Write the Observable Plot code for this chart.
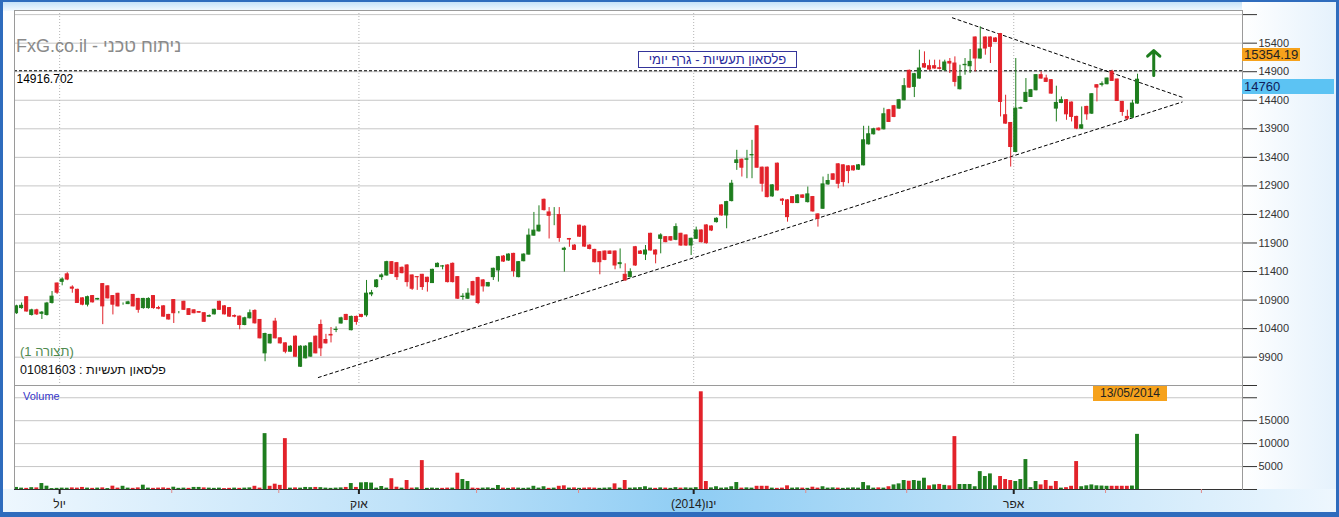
<!DOCTYPE html>
<html><head><meta charset="utf-8">
<script src="https://cdn.jsdelivr.net/npm/d3@7"></script>
<script src="https://cdn.jsdelivr.net/npm/@observablehq/plot@0.6"></script>
<style>
html,body{margin:0;padding:0;background:#fff;}
#wrap{position:relative;width:1339px;height:517px;overflow:hidden;font-family:"Liberation Sans",Arial,sans-serif;background:#fff;}
.abs{position:absolute;}
#border{left:0;top:0;width:1339px;height:517px;box-sizing:border-box;border:3px solid #2f6cbd;border-top-width:2px;border-bottom-width:5px;}
#topbar{left:0;top:0;width:1339px;height:11px;background:linear-gradient(to bottom,#bcdcf6,#f4faff);}
#rightpanel{left:1242px;top:0;width:97px;height:517px;background:linear-gradient(to right,#ffffff,#e4f1fc);}
#bottombar{left:0;top:489px;width:1339px;height:28px;background:linear-gradient(to right,#eef7fe 0%,#bfe2f9 30%,#8fcdf4 52%,#bfe2f9 75%,#eef7fe 100%);}
svg{position:absolute;left:0;overflow:visible;}
.lbl{position:absolute;white-space:nowrap;line-height:15px;font-size:12px;}
</style></head>
<body><div id="wrap">
<div id="topbar" class="abs"></div>
<div id="rightpanel" class="abs"></div>
<div id="bottombar" class="abs"></div>
<div id="border" class="abs"></div>
</div>
<script>
// ---- data ----
const open = [10670,10760,10950,10640,10720,10660,10640,10850,11190,11220,
11350,11120,11080,10930,10820,10970,10910,11180,11140,10970,
11010,10830,10830,10990,10920,10760,10760,10970,10760,10790,
10640,10900,10680,10870,10740,10720,10690,10670,10610,10650,
10870,10790,10760,10620,10610,10464,10581,10710,10552,9967,
10142,10522,10230,10142,9996,10259,9733,9880,9910,10259,
10464,10201,10290,10376,10490,10640,10373,10605,10640,10634,
11000,11128,11302,11331,11564,11546,11465,11506,11331,11302,
11343,11291,11198,11477,11488,11506,11535,11302,10954,10925,
11215,11285,11244,11140,11302,11419,11662,11593,11709,11302,
11581,11697,12029,12104,12656,12435,12389,12389,11780,11970,
11854,12203,12185,11854,11779,11738,11750,11750,11750,11530,
11343,11302,11825,11750,11698,12061,11768,11973,12002,12002,
11956,12061,12032,11856,11973,12119,12207,12189,12265,12558,
12382,12634,13301,13359,13359,13435,13944,13219,13219,12716,
13289,12660,12646,12704,12599,12733,12616,12704,12400,12500,
12926,13102,13277,13260,13242,13242,13184,13260,13628,13804,
13903,13891,14225,14295,14254,14400,14915,14634,14780,15032,
14996,14996,14960,14926,15072,15043,14593,15014,14996,15499,
15131,15499,15499,15482,15558,14137,14002,13494,14254,14371,
14458,14575,14839,14780,14751,14254,14353,14400,14359,14108,
13903,14283,14166,14663,14670,14681,14897,14763,14371,14108,
14096,14342];
const high = [10810,10850,10960,10740,10740,10700,10860,11050,11200,11290,
11380,11150,11090,10940,10970,10980,10930,11190,11150,10980,
11020,10850,10880,11000,10930,10930,10940,10980,10790,10800,
10650,10910,10700,10880,10750,10730,10700,10680,10640,10740,
10880,10800,10770,10640,10620,10600,10727,10730,10560,10320,
10300,10580,10240,10150,10100,10270,10100,10100,10150,10270,
10550,10300,10420,10430,10600,10650,10620,10620,10650,11244,
11070,11260,11360,11580,11575,11560,11480,11520,11340,11310,
11350,11300,11440,11550,11506,11520,11550,11310,11012,11099,
11230,11300,11260,11210,11460,11665,11680,11710,11720,11575,
11710,12145,12435,12551,12670,12520,12520,12520,11825,11980,
11870,12210,12200,11870,11790,11750,11760,11760,11760,11796,
11535,11448,11840,11768,11856,12070,11780,12061,12010,12010,
12236,12070,12040,11985,12178,12130,12220,12200,12340,12570,
12630,12997,13523,13370,13523,13698,13950,13230,13230,12920,
13300,12675,12660,12710,12745,12740,12880,12715,12410,13055,
13102,13110,13290,13270,13255,13255,13275,13944,13944,13910,
13915,14260,14240,14310,14415,14780,14930,14870,15277,15248,
15102,15102,15102,15102,15131,15160,15014,15131,15289,15510,
15687,15510,15510,15495,15570,14488,14010,15131,14280,14780,
14590,14850,14897,14839,14760,14646,14458,14410,14370,14120,
14283,14295,14515,14675,14722,14790,14926,14770,14380,14225,
14400,14856];
const low = [10650,10740,10690,10620,10630,10560,10620,10830,11000,11150,
11240,11020,10840,10800,10780,10850,10900,10470,10920,10640,
10780,10810,10820,10780,10670,10740,10740,10740,10730,10600,
10550,10490,10660,10720,10630,10660,10670,10510,10600,10640,
10720,10640,10600,10590,10380,10450,10570,10480,10220,9820,
10130,10220,10130,9960,9990,9900,9720,9870,9900,9960,
9910,10130,10150,10330,10480,10540,10360,10460,10590,10600,
10960,11110,11244,11320,11350,11244,11360,11128,11070,11070,
11070,11040,11190,11470,11430,11200,11200,10910,10896,10910,
10970,10820,11040,11130,11244,11215,11560,11580,11302,11290,
11570,11690,12020,12090,12460,11970,12203,11912,11389,11825,
11770,12000,11825,11780,11550,11343,11590,11700,11430,11448,
11230,11290,11490,11700,11593,11760,11535,11710,11905,11930,
11940,11840,11840,11681,11960,11900,11880,12100,12250,12370,
12149,12620,13172,13055,13026,13026,13210,12792,12690,12700,
12810,12558,12265,12590,12590,12680,12600,12440,12178,12490,
12910,12995,12850,12880,12938,13160,13170,13250,13615,13790,
13860,13880,14010,14095,14240,14390,14610,14447,14770,14960,
14925,14945,14930,14910,14868,14634,14580,14839,14868,14897,
15120,15189,15043,15410,14108,13980,13230,13480,14240,14360,
14447,14565,14770,14710,14505,14020,14340,14049,14020,13885,
13890,14049,14150,14371,14634,14670,14730,14380,14119,14049,
14085,14330];
const close = [10790,10800,10700,10720,10650,10680,10840,10960,11030,11260,
11260,11100,10850,10820,10950,10860,10920,10790,10930,10820,
10790,10830,10860,10790,10730,10920,10920,10760,10750,10610,
10560,10670,10680,10730,10640,10670,10680,10520,10620,10730,
10730,10650,10610,10610,10464,10581,10669,10493,10230,10306,
10290,10230,10142,9996,10084,9908,10084,10084,10142,9967,
10055,10142,10280,10380,10580,10552,10605,10518,10605,11012,
11020,11244,11331,11564,11360,11302,11372,11215,11099,11300,
11128,11215,11430,11535,11490,11215,11215,10925,10960,11012,
10983,10849,11140,11198,11448,11651,11575,11697,11407,11564,
11697,12029,12116,12203,12476,12377,12389,11988,11800,11960,
11779,12011,11837,11796,11564,11564,11604,11709,11506,11546,
11244,11389,11506,11710,11768,11768,11698,12032,11915,11944,
12178,11856,11856,11973,12119,11915,11897,12119,12324,12382,
12616,12938,13347,13219,13365,13440,13219,12938,12704,12909,
12821,12640,12353,12599,12733,12692,12751,12453,12324,12926,
12985,13008,12938,12967,13160,13172,13260,13698,13804,13891,
13874,14154,14020,14108,14400,14646,14622,14856,14956,14973,
14938,14956,14950,15061,15043,14722,14809,15020,15072,15131,
15289,15306,15336,15423,14371,13991,13581,14254,14260,14529,
14575,14839,14780,14722,14517,14353,14400,14154,14108,13903,
13961,14154,14505,14622,14681,14780,14739,14388,14195,14078,
14342,14760];
const volume = [450,300,250,400,350,1300,725,200,250,300,
280,350,300,450,300,250,300,350,200,725,
300,700,300,250,350,940,300,250,300,350,
250,500,250,300,250,450,450,350,300,250,
300,200,250,300,250,300,350,700,300,12180,
700,1160,900,11090,300,350,300,450,400,450,
400,300,250,300,350,450,1300,450,1450,1500,
1400,300,650,300,2350,500,300,1960,300,350,
6300,250,300,250,250,300,300,3550,2175,1740,
300,250,300,350,250,870,300,250,350,300,
250,300,700,300,600,250,300,700,800,300,
350,250,300,350,300,250,300,350,1230,300,
1960,300,350,400,600,300,250,350,300,250,
400,300,350,300,400,21300,1740,350,600,300,
350,600,1520,300,350,300,700,700,700,300,
250,300,800,300,350,300,250,500,300,600,
300,350,300,250,300,350,300,1520,800,300,
350,300,600,1000,1230,1960,1800,1960,1800,2460,
800,1000,1100,900,800,11530,1090,1090,1090,600,
3900,2830,3400,800,2830,2175,1960,1740,2175,6525,
400,1740,1000,1960,700,1740,300,400,700,6090,
600,800,1000,800,750,700,700,700,700,700,
750,12020];

const priceTicks = [9900,10400,10900,11400,11900,12400,12900,13400,13900,14400,14900,15400];
const volumeTicks = [5000,10000,15000];
const majorMonths = [{i:8.5,label:"יול"},{i:67.5,label:"אוק"},{i:133.5,label:"(2014)ינו"},{i:196.6,label:"אפר"}];
const minorMonths = [30.6,51.7,90.7,110.8,155.6,175.5,214.7,233.6];
const resistance = 14916.702;
const markerHigh = 15354.19;
const lastPrice = 14760;
const lastDate = "13/05/2014";
const upperTrend = [{i:184.5,v:15844},{i:229.8,v:14453}];
const lowerTrend = [{i:59.5,v:9544},{i:229.8,v:14369}];
const signal = [{i:224.2,from:14834,to:15271}];

// ---- build ----
const RED = "#e2222a", GREEN = "#1e7d1e";
const candles = close.map((c,i)=>({i, o:open[i], h:high[i], l:low[i], c, v:volume[i],
  col: c >= open[i] ? GREEN : RED,
  vcol: (i===0 ? c>=open[i] : c>=close[i-1]) ? GREEN : RED}));
const xDomain = [-0.4, 241.7];
const font = "Liberation Sans, Arial, sans-serif";

const price = Plot.plot({
  width:1339, height:386, marginLeft:14, marginRight:97, marginTop:10, marginBottom:1,
  style:{background:"transparent", fontFamily:font, fontSize:"11px", color:"#333", overflow:"visible"},
  x:{domain:xDomain, axis:null},
  y:{domain:[9404,15972], axis:null},
  marks:[
    Plot.ruleY(priceTicks.concat([15900]), {stroke:"#c6c6c6"}),
    Plot.ruleX(majorMonths, {x:"i", stroke:"#b4b4b4", strokeDasharray:"1,2"}),
    Plot.ruleY([resistance], {stroke:"#000", strokeWidth:1.2, strokeDasharray:"3,2"}),
    Plot.text([resistance], {y:d=>d, frameAnchor:"left", text:d=>String(d), textAnchor:"start", dx:2, dy:8, fontSize:12, fill:"#000"}),
    Plot.line(upperTrend, {x:"i", y:"v", stroke:"#000", strokeWidth:1, strokeDasharray:"3,3"}),
    Plot.line(lowerTrend, {x:"i", y:"v", stroke:"#000", strokeWidth:1, strokeDasharray:"3,3"}),
    Plot.ruleX(candles, {x:"i", y1:"l", y2:"h", stroke:"col", strokeWidth:1}),
    Plot.rect(candles, {x1:d=>d.i-0.3, x2:d=>d.i+0.3, y1:"o", y2:"c", fill:"col", stroke:"col", strokeWidth:1}),
    Plot.arrow(signal, {x1:"i", x2:"i", y1:"from", y2:"to", stroke:GREEN, strokeWidth:3, headLength:11, headAngle:95}),
    Plot.axisY({anchor:"right", label:null, ticks:[9404].concat(priceTicks,[15900]), tickFormat:d=>(d===9404||d===15900)?"":String(d), tickSize:14, tickPadding:2, fontSize:11, stroke:"#333", fill:"#333"}),
    Plot.frame({stroke:"#9a9a9a"})
  ]
});
price.style.top = "0px";
document.getElementById("wrap").appendChild(price);

const vol = Plot.plot({
  width:1339, height:132, marginLeft:14, marginRight:97, marginTop:0, marginBottom:28,
  style:{background:"transparent", fontFamily:font, fontSize:"11px", color:"#333", overflow:"visible"},
  x:{domain:xDomain, axis:null},
  y:{domain:[0,22674], axis:null},
  marks:[
    Plot.ruleY(volumeTicks.concat([20000]), {stroke:"#c6c6c6"}),
    Plot.rectY(candles, {x1:d=>d.i-0.38, x2:d=>d.i+0.38, y:"v", fill:"vcol"}),
    Plot.frame({stroke:"#9a9a9a"}),
    Plot.ruleY([0], {stroke:"#333"}),
    Plot.axisY({anchor:"right", label:null, ticks:[0].concat(volumeTicks,[20000,22674]), tickFormat:d=>volumeTicks.includes(d)?String(d):"", tickSize:14, tickPadding:2, fontSize:11, stroke:"#333", fill:"#333"}),
    Plot.axisX({label:null, ticks:minorMonths, tickFormat:()=>"", tickSize:4, stroke:"#e08a8a"}),
    Plot.axisX({label:null, ticks:majorMonths.map(d=>d.i), tickFormat:d=>majorMonths.find(m=>m.i===d).label, tickSize:5, tickPadding:5, strokeWidth:2, stroke:"#222", fill:"#222", fontSize:12})
  ]
});
vol.style.top = "385px";
document.getElementById("wrap").appendChild(vol);

// ---- overlay labels positioned with the plots' scales ----
const wrap = document.getElementById("wrap");
function lbl(text, css){ const d=document.createElement("div"); d.className="lbl"; d.textContent=text; Object.assign(d.style, css); wrap.appendChild(d); return d; }
const yP = price.scale("y"), xP = price.scale("x");
lbl(String(markerHigh), {left:"1242px", top:Math.round(yP.apply(markerHigh))+3+"px", lineHeight:"13px", background:"#f6a21c", color:"#222", padding:"0 2px 0 2px", fontSize:"13px"});
lbl(String(lastPrice), {left:"1242px", top:Math.round(yP.apply(lastPrice))+"px", width:"90px", background:"#5cc3f3", color:"#10205a", padding:"0 0 0 2px", fontSize:"13px"});
lbl(lastDate, {left:Math.round(xP.apply(close.length-1))-44+"px", top:"386px", width:"74px", textAlign:"center", background:"#f6a21c", color:"#222", fontSize:"12px"});
lbl("FxG.co.il - ניתוח טכני", {left:"16px", top:"36px", fontSize:"18px", lineHeight:"21px", color:"#8a8a8a"});
lbl("פלסאון תעשיות - גרף יומי", {left:"638px", top:"51px", width:"157px", height:"15px", textAlign:"center", border:"1px solid #34349a", color:"#2a2a9c", background:"#fff", fontSize:"13px"});
lbl("(תצורה 1)", {left:"20px", top:"344px", fontSize:"13px", color:"#4f8a4f"});
lbl("01081603 : פלסאון תעשיות", {left:"20px", top:"363px", fontSize:"12.5px", color:"#111"});
lbl("Volume", {left:"23px", top:"389px", fontSize:"11px", color:"#3535c8"});
</script>
</body></html>
